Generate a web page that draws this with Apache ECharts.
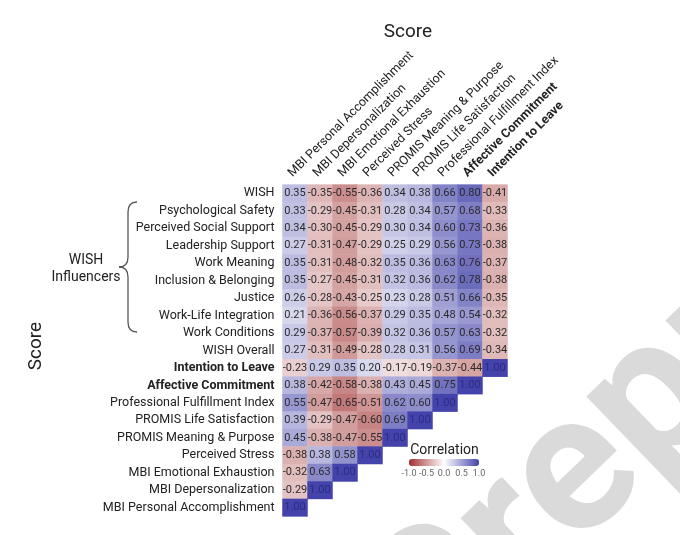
<!DOCTYPE html>
<html>
<head>
<meta charset="utf-8">
<script src="https://cdn.jsdelivr.net/npm/echarts@6/dist/echarts.min.js"></script>
<style>
html, body { margin: 0; padding: 0; background: #fff; }
#chart { width: 680px; height: 535px; }
</style>
</head>
<body>
<div id="chart"></div>
<script>
// column (x) labels, left to right
var colLabels = ['MBI Personal Accomplishment', 'MBI Depersonalization', 'MBI Emotional Exhaustion',
	'Perceived Stress', 'PROMIS Meaning & Purpose', 'PROMIS Life Satisfaction',
	'Professional Fulfillment Index', 'Affective Commitment', 'Intention to Leave'];

// row (y) labels, top to bottom
var rowLabels = ['WISH', 'Psychological Safety', 'Perceived Social Support', 'Leadership Support',
	'Work Meaning', 'Inclusion & Belonging', 'Justice', 'Work-Life Integration', 'Work Conditions',
	'WISH Overall', 'Intention to Leave', 'Affective Commitment', 'Professional Fulfillment Index',
	'PROMIS Life Satisfaction', 'PROMIS Meaning & Purpose', 'Perceived Stress',
	'MBI Emotional Exhaustion', 'MBI Depersonalization', 'MBI Personal Accomplishment'];

var boldLabels = ['Affective Commitment', 'Intention to Leave'];

// correlations, one row per rowLabels entry, columns in colLabels order
var corrRows = [
	[0.35, -0.35, -0.55, -0.36, 0.34, 0.38, 0.66, 0.80, -0.41],
	[0.33, -0.29, -0.45, -0.31, 0.28, 0.34, 0.57, 0.68, -0.33],
	[0.34, -0.30, -0.45, -0.29, 0.30, 0.34, 0.60, 0.73, -0.36],
	[0.27, -0.31, -0.47, -0.29, 0.25, 0.29, 0.56, 0.73, -0.38],
	[0.35, -0.31, -0.48, -0.32, 0.35, 0.36, 0.63, 0.76, -0.37],
	[0.35, -0.27, -0.45, -0.31, 0.32, 0.36, 0.62, 0.78, -0.38],
	[0.26, -0.28, -0.43, -0.25, 0.23, 0.28, 0.51, 0.66, -0.35],
	[0.21, -0.36, -0.56, -0.37, 0.29, 0.35, 0.48, 0.54, -0.32],
	[0.29, -0.37, -0.57, -0.39, 0.32, 0.36, 0.57, 0.63, -0.32],
	[0.27, -0.31, -0.49, -0.28, 0.28, 0.31, 0.56, 0.69, -0.34],
	[-0.23, 0.29, 0.35, 0.20, -0.17, -0.19, -0.37, -0.44, 1.00],
	[0.38, -0.42, -0.58, -0.38, 0.43, 0.45, 0.75, 1.00],
	[0.55, -0.47, -0.65, -0.51, 0.62, 0.60, 1.00],
	[0.39, -0.29, -0.47, -0.60, 0.69, 1.00],
	[0.45, -0.38, -0.47, -0.55, 1.00],
	[-0.38, 0.38, 0.58, 1.00],
	[-0.32, 0.63, 1.00],
	[-0.29, 1.00],
	[1.00]
];

var legendTicks = ['-1.0', '-0.5', '0.0', '0.5', '1.0'];

var heatData = [];
for (var i = 0; i < corrRows.length; i++) {
	for (var j = 0; j < corrRows[i].length; j++) {
		heatData.push([j, i, corrRows[i][j]]);
	}
}

function boldFmt(v) {
	return boldLabels.indexOf(v) > -1 ? '{b|' + v + '}' : v;
}

var FONT = 'Roboto';
var legendLeft = 409, legendLen = 70;

function txt(x, y, s, font, color, rot) {
	return {
		type: 'text', x: x, y: y, rotation: rot || 0, silent: true,
		style: { text: s, font: font, fill: color, align: 'center', verticalAlign: 'middle' }
	};
}

// curly brace for the WISH influencers
var braceStyle = { stroke: '#555', fill: null, lineWidth: 1.3 };
var graphics = [
	// watermark
	{
		type: 'text', x: 468, y: 722, rotation: 44 * Math.PI / 180, silent: true, z: 0,
		style: { text: 'Preproof', font: 'bold 195px Roboto', fill: '#dadada', align: 'left', verticalAlign: 'bottom' }
	},
	txt(408, 32, 'Score', '19px Roboto', '#222'),
	txt(36, 346, 'Score', '19px Roboto', '#222', Math.PI / 2),
	txt(86, 260, 'WISH', '14px Roboto', '#222'),
	txt(86, 277, 'Influencers', '14px Roboto', '#222'),
	txt(444.5, 450, 'Correlation', '14px Roboto', '#222'),
	{ type: 'bezierCurve', silent: true, shape: { x1: 137, y1: 202, cpx1: 128, cpy1: 202, x2: 128, y2: 212 }, style: braceStyle },
	{ type: 'line', silent: true, shape: { x1: 128, y1: 212, x2: 128, y2: 257 }, style: braceStyle },
	{ type: 'bezierCurve', silent: true, shape: { x1: 128, y1: 257, cpx1: 128, cpy1: 267, x2: 119, y2: 267 }, style: braceStyle },
	{ type: 'bezierCurve', silent: true, shape: { x1: 119, y1: 267, cpx1: 128, cpy1: 267, x2: 128, y2: 277 }, style: braceStyle },
	{ type: 'line', silent: true, shape: { x1: 128, y1: 277, x2: 128, y2: 322 }, style: braceStyle },
	{ type: 'bezierCurve', silent: true, shape: { x1: 128, y1: 322, cpx1: 128, cpy1: 332, x2: 137, y2: 332 }, style: braceStyle }
];
for (var k = 0; k < legendTicks.length; k++) {
	graphics.push(txt(legendLeft + k * legendLen / (legendTicks.length - 1), 474, legendTicks[k], '9px Roboto', '#666'));
}

var chart = echarts.init(document.getElementById('chart'));
var option = {
	backgroundColor: '#fff',
	animation: false,
	textStyle: { fontFamily: FONT },
	grid: { left: 282.5, top: 184.6, width: 225, height: 331.8 },
	xAxis: {
		type: 'category',
		position: 'top',
		data: colLabels,
		axisLine: { show: false },
		axisTick: { show: false },
		splitLine: { show: false },
		axisLabel: {
			rotate: -45, margin: 5, interval: 0,
			align: 'left', verticalAlign: 'bottom',
			fontSize: 12.5, color: '#222', fontFamily: FONT,
			formatter: boldFmt,
			rich: { b: { fontWeight: 'bold', fontSize: 12.5, color: '#222', fontFamily: FONT } }
		}
	},
	yAxis: {
		type: 'category',
		inverse: true,
		data: rowLabels,
		axisLine: { show: false },
		axisTick: { show: false },
		splitLine: { show: false },
		axisLabel: {
			margin: 8, interval: 0,
			fontSize: 12.5, color: '#222', fontFamily: FONT,
			formatter: boldFmt,
			rich: { b: { fontWeight: 'bold', fontSize: 12.5, color: '#222', fontFamily: FONT } }
		}
	},
	visualMap: {
		type: 'continuous',
		min: -1, max: 1,
		orient: 'horizontal',
		calculable: false,
		left: legendLeft, top: 459,
		padding: 0,
		itemWidth: 7, itemHeight: legendLen,
		showLabel: false,
		inRange: { color: ['#a0302f', '#ffffff', '#4343ab'] }
	},
	graphic: graphics,
	series: [{
		type: 'heatmap',
		data: heatData,
		itemStyle: { borderWidth: 0 },
		emphasis: { disabled: true },
		label: {
			show: true,
			fontSize: 11,
			fontFamily: FONT,
			color: '#2b2b2b',
			formatter: function (p) {
				var s = p.value[2].toFixed(2);
				return p.value[2] >= 0.995 ? '{d|' + s + '}' : s;
			},
			rich: { d: { color: '#2c2c80', fontSize: 11, fontFamily: FONT } }
		}
	}]
};
chart.setOption(option);
</script>
</body>
</html>
